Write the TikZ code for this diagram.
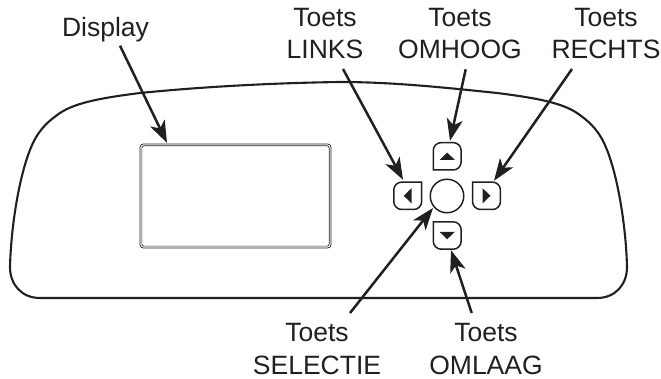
\documentclass[tikz,border=0pt]{standalone}
\usepackage{fontspec}
\setmainfont{Liberation Sans}
\usetikzlibrary{arrows.meta}
\definecolor{ink}{HTML}{231F20}
\tikzset{
  lbl/.style={align=center,inner sep=0pt,font=\fontsize{26.5}{32.6}\selectfont,text=ink},
  btn/.style={inner sep=0pt,minimum width=27.5pt,minimum height=27pt,rectangle},
  arr/.style={draw=ink,line width=2.5pt,-{Stealth[length=22pt,width=16pt,inset=6pt]}},
  outline/.style={draw=ink,line width=2.1pt},
  face/.style={draw=ink,line width=1.5pt},
  glyph/.style={fill=ink,draw=none}
}
\begin{document}
\begin{tikzpicture}[x=1pt,y=-1pt]
\useasboundingbox (0,0) rectangle (661,379);
% body
\draw[outline] (40,298) -- (597,298)
  .. controls (615,298) and (627,285) .. (627,267)
  .. controls (626,225) and (617,170) .. (604,143)
  .. controls (597,128) and (587,120) .. (577,113)
  .. controls (562,103) and (537,98) .. (497,93)
  .. controls (440,87) and (390,82) .. (340,82)
  .. controls (270,83) and (200,87) .. (140,93)
  .. controls (100,98) and (75,103) .. (60,113)
  .. controls (50,120) and (40,128) .. (33,143)
  .. controls (20,170) and (11,225) .. (10,267)
  .. controls (10,285) and (22,298) .. (40,298) -- cycle;
% display
\node[inner sep=0pt,minimum width=190.5pt,minimum height=103.5pt,rectangle] (display) at (235.5,196) {};
\draw[draw=ink,line width=.7pt,rounded corners=3pt] (display.north west) rectangle (display.south east);
\draw[draw=ink,line width=.7pt,rounded corners=2pt] ([shift={(1.8,1.8)}]display.north west) rectangle ([shift={(-1.8,-1.8)}]display.south east);
% buttons
\node[btn] (up) at (447.2,156.3) {};
\node[btn] (left) at (407.7,195.8) {};
\node[btn] (right) at (486.5,195.8) {};
\node[btn] (down) at (447.2,235.5) {};
\node[circle,draw=ink,line width=1.5pt,inner sep=0pt,minimum size=33.5pt] (select) at (447,196) {};
\draw[face,rounded corners=8pt] (up.south west) -- (up.north west) -- (up.north east) -- (up.south east) [sharp corners] -- cycle;
\draw[face,rounded corners=8pt] (down.north west) -- (down.south west) -- (down.south east) -- (down.north east) [sharp corners] -- cycle;
\draw[face,rounded corners=8pt] (left.north east) -- (left.north west) -- (left.south west) -- (left.south east) [sharp corners] -- cycle;
\draw[face,rounded corners=8pt] (right.north west) -- (right.north east) -- (right.south east) -- (right.south west) [sharp corners] -- cycle;
\fill[glyph] ([shift={(-7.7,3.7)}]up.center) -- ([shift={(7.7,3.7)}]up.center) -- ([shift={(0,-3.7)}]up.center) -- cycle;
\fill[glyph] ([shift={(-7.7,-3.7)}]down.center) -- ([shift={(7.7,-3.7)}]down.center) -- ([shift={(0,3.7)}]down.center) -- cycle;
\fill[glyph] ([shift={(-4,0)}]left.center) -- ([shift={(4,-7.7)}]left.center) -- ([shift={(4,7.7)}]left.center) -- cycle;
\fill[glyph] ([shift={(4,0)}]right.center) -- ([shift={(-4,-7.7)}]right.center) -- ([shift={(-4,7.7)}]right.center) -- cycle;
% labels
\node[lbl] (ldisplay) at (105.5,30) {Display};
\node[lbl] (lleft) at (325,33.6) {Toets\\LINKS};
\node[lbl] (lup) at (460,33.6) {Toets\\OMHOOG};
\node[lbl] (lright) at (606,33.6) {Toets\\RECHTS};
\node[lbl] (lselect) at (317,349) {Toets\\SELECTIE};
\node[lbl] (ldown) at (486,349) {Toets\\OMLAAG};
% arrows
\draw[arr] ([shift={(14.5,15.7)}]ldisplay.center) -- ([shift={(-68.5,-1.2)}]display.north);
\draw[arr] ([shift={(18,35.4)}]lleft.center) -- ([shift={(-4.7,-2.3)}]left.north);
\draw[arr] ([shift={(5.7,35.7)}]lup.center) -- ([shift={(2.8,-1.7)}]up.north);
\draw[arr] ([shift={(-34,35.4)}]lright.center) -- ([shift={(7.5,-1.3)}]right.north);
\draw[arr] ([shift={(33,-36)}]lselect.center) -- ([shift={(-14,12)}]select.center);
\draw[arr] ([shift={(-14.3,-36)}]ldown.center) -- ([shift={(3.8,1)}]down.south);
\end{tikzpicture}
\end{document}
